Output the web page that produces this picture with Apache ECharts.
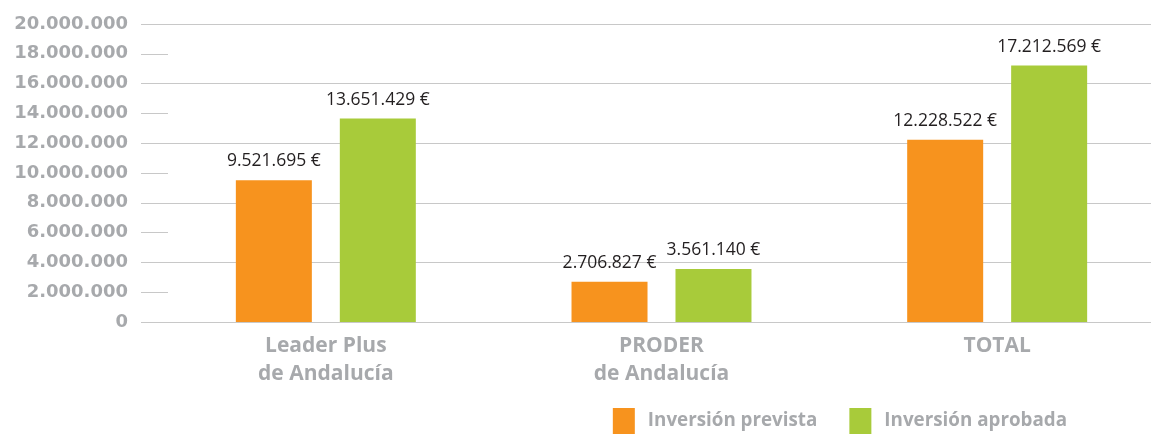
<!DOCTYPE html>
<html>
<head>
<meta charset="utf-8">
<script src="https://cdn.jsdelivr.net/npm/echarts@6/dist/echarts.min.js"></script>
<style>
  html, body { margin: 0; padding: 0; background: #fff; }
  #chart { width: 1151px; height: 434px; }
</style>
</head>
<body>
<div id="chart"></div>
<script>
// datos del gráfico
var categorias = ['Leader Plus\nde Andalucía', 'PRODER\nde Andalucía', 'TOTAL'];
var series_nombres = ['Inversión prevista', 'Inversión aprobada'];
var prevista = [9521695, 2706827, 12228522];
var aprobada = [13651429, 3561140, 17212569];

var naranja = '#F7931E';
var verde = '#A8CB3A';
var gris = '#A7A9AC';
var fuente = 'Open Sans';

// 1234567 -> "1.234.567"
function miles(v) {
    return String(Math.round(v)).replace(/\B(?=(\d{3})+(?!\d))/g, '.');
}

var dom = document.getElementById('chart');
var myChart = echarts.init(dom, null, { renderer: 'canvas' });

var etiqueta = {
    show: true,
    position: 'top',
    distance: 10,
    color: '#231F20',
    fontSize: 17.5,
    fontFamily: fuente,
    formatter: function (p) { return miles(p.value) + ' €'; }
};

var option = {
    animation: false,
    legend: {
        data: series_nombres,
        right: 84,
        top: 408,
        padding: 0,
        itemWidth: 22,
        itemHeight: 26,
        itemGap: 32,
        icon: 'rect',
        textStyle: { color: gris, fontSize: 18.8, fontWeight: 'bold', fontFamily: fuente, padding: [0, 0, 0, 8] }
    },
    grid: [
        // rejilla del eje Y
        { left: 141, right: 0, top: 24, bottom: 112, outerBoundsMode: 'none' },
        // rejilla de las barras (sobresale un poco por la derecha)
        { left: 158, width: 1007, top: 24, bottom: 112, outerBoundsMode: 'none' }
    ],
    xAxis: [
        { type: 'category', gridIndex: 0, data: categorias, show: false },
        {
            type: 'category',
            gridIndex: 1,
            data: categorias,
            axisLine: { show: false },
            axisTick: { show: false },
            axisLabel: {
                color: gris,
                fontSize: 21,
                fontWeight: 'bold',
                fontFamily: fuente,
                lineHeight: 28,
                margin: 10
            }
        }
    ],
    yAxis: [
        {
            type: 'value',
            gridIndex: 0,
            min: 0,
            max: 20000000,
            interval: 2000000,
            axisLine: { show: false },
            axisTick: { show: true, inside: true, length: 27, lineStyle: { color: '#c8c8c8', width: 1 } },
            splitLine: { show: false },
            axisLabel: {
                color: gris,
                fontSize: 18,
                fontWeight: 'bold',
                fontFamily: 'DejaVu Sans',
                margin: 13,
                formatter: function (v) { return miles(v); }
            }
        },
        {
            type: 'value',
            gridIndex: 0,
            min: 0,
            max: 20000000,
            interval: 4000000,
            axisLine: { show: false },
            axisTick: { show: false },
            axisLabel: { show: false },
            splitLine: { show: true, lineStyle: { color: '#c8c8c8', width: 1 } }
        },
        {
            type: 'value',
            gridIndex: 1,
            min: 0,
            max: 20000000,
            show: false,
            splitLine: { show: false }
        }
    ],
    series: [
        {
            name: series_nombres[0],
            type: 'bar',
            xAxisIndex: 1,
            yAxisIndex: 2,
            data: prevista,
            barWidth: 76,
            barGap: '36.8%',
            itemStyle: { color: naranja },
            label: etiqueta
        },
        {
            name: series_nombres[1],
            type: 'bar',
            xAxisIndex: 1,
            yAxisIndex: 2,
            data: aprobada,
            barWidth: 76,
            itemStyle: { color: verde },
            label: etiqueta
        }
    ]
};

myChart.setOption(option);
window.addEventListener('resize', myChart.resize);
</script>
</body>
</html>
